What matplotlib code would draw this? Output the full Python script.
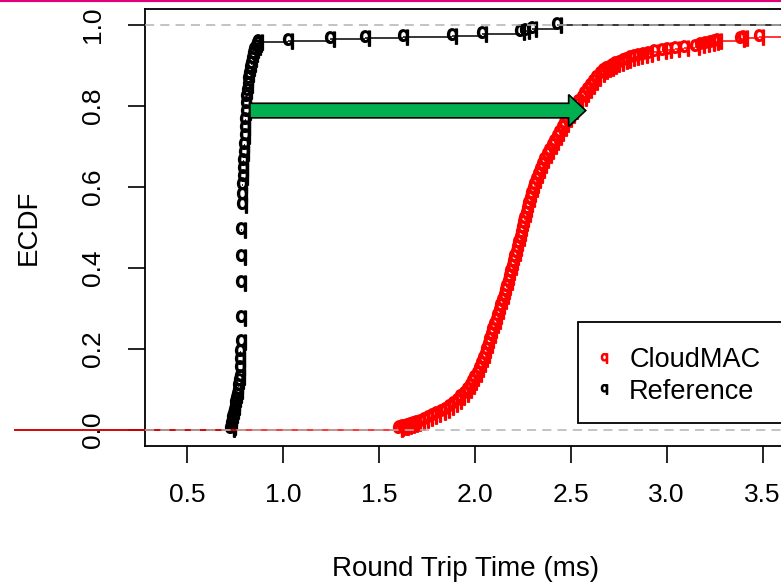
import numpy as np
import matplotlib
matplotlib.use("Agg")
import matplotlib.pyplot as plt
from matplotlib.lines import Line2D
from matplotlib.patches import FancyArrow, Rectangle

plt.rcParams['font.family'] = ['Liberation Sans', 'DejaVu Sans']

# Reference RTT (ms) and ECDF height at each step
ref_rtt = [0.724, 0.728, 0.731, 0.734, 0.737, 0.740, 0.744, 0.748, 0.752, 0.756,
           0.760, 0.764, 0.768, 0.772, 0.775, 0.776, 0.777, 0.778, 0.779, 0.780,
           0.781, 0.782, 0.783, 0.784, 0.786, 0.788, 0.790, 0.792, 0.794, 0.796,
           0.798, 0.800, 0.802, 0.804, 0.806, 0.808, 0.810, 0.813, 0.816, 0.820,
           0.824, 0.828, 0.833, 0.838, 0.844, 0.850, 0.857, 0.865, 0.872,
           1.026, 1.245, 1.427, 1.625, 1.880, 2.036, 2.234, 2.262, 2.300, 2.427]
ref_ecdf = [0.003, 0.008, 0.014, 0.020, 0.028, 0.036, 0.046, 0.056, 0.066, 0.076,
            0.086, 0.097, 0.108, 0.120, 0.130, 0.153, 0.173, 0.193, 0.217, 0.277,
            0.363, 0.427, 0.494, 0.556, 0.580, 0.605, 0.625, 0.645, 0.665, 0.685,
            0.705, 0.725, 0.745, 0.765, 0.785, 0.805, 0.822, 0.838, 0.852, 0.866,
            0.880, 0.893, 0.905, 0.917, 0.928, 0.938, 0.946, 0.953, 0.958,
            0.962, 0.965, 0.968, 0.971, 0.974, 0.978, 0.982, 0.986, 0.990, 1.000]

# CloudMAC RTT (ms) and ECDF height
cloud_rtt = [1.600, 1.606, 1.618, 1.633, 1.648, 1.662, 1.677, 1.695, 1.712, 1.733,
             1.755, 1.778, 1.800, 1.823, 1.847, 1.868, 1.888, 1.908, 1.925, 1.943,
             1.960, 1.974, 1.987, 1.998, 2.010, 2.021, 2.032, 2.042, 2.051, 2.060,
             2.068, 2.076, 2.084, 2.092, 2.100, 2.108, 2.116, 2.124, 2.132, 2.141,
             2.150, 2.157, 2.164, 2.171, 2.178, 2.185, 2.192, 2.199, 2.206, 2.213,
             2.220, 2.227, 2.233, 2.239, 2.246, 2.252, 2.258, 2.265, 2.272, 2.279,
             2.287, 2.295, 2.303, 2.311, 2.320, 2.329, 2.339, 2.350, 2.362, 2.375,
             2.389, 2.402, 2.414, 2.427, 2.440, 2.454, 2.467, 2.481, 2.495, 2.512,
             2.526, 2.540, 2.556, 2.570, 2.584, 2.600, 2.617, 2.634, 2.650, 2.666,
             2.682, 2.698, 2.715, 2.732, 2.750, 2.770, 2.790, 2.810, 2.830, 2.852,
             2.875, 2.905, 2.935, 2.975, 3.000, 3.045, 3.090, 3.150, 3.175, 3.200,
             3.225, 3.245, 3.262, 3.380, 3.400, 3.480, 3.760, 3.950]
cloud_ecdf = [0.002, 0.004, 0.006, 0.008, 0.010, 0.012, 0.014, 0.017, 0.020, 0.024,
              0.028, 0.033, 0.038, 0.044, 0.050, 0.057, 0.064, 0.072, 0.080, 0.089,
              0.098, 0.108, 0.118, 0.128, 0.139, 0.150, 0.162, 0.174, 0.186, 0.198,
              0.210, 0.222, 0.234, 0.246, 0.258, 0.270, 0.282, 0.294, 0.306, 0.318,
              0.330, 0.342, 0.354, 0.366, 0.378, 0.390, 0.402, 0.414, 0.426, 0.438,
              0.450, 0.462, 0.474, 0.486, 0.498, 0.510, 0.522, 0.534, 0.546, 0.558,
              0.570, 0.582, 0.594, 0.606, 0.618, 0.630, 0.642, 0.654, 0.666, 0.678,
              0.690, 0.701, 0.712, 0.723, 0.734, 0.745, 0.756, 0.767, 0.778, 0.789,
              0.800, 0.810, 0.820, 0.830, 0.840, 0.850, 0.860, 0.870, 0.879, 0.886,
              0.891, 0.895, 0.899, 0.903, 0.907, 0.911, 0.915, 0.918, 0.921, 0.924,
              0.927, 0.930, 0.933, 0.936, 0.938, 0.941, 0.944, 0.947, 0.950, 0.953,
              0.956, 0.959, 0.962, 0.966, 0.969, 0.972, 0.985, 1.000]

x_ticks = [0.5, 1.0, 1.5, 2.0, 2.5, 3.0, 3.5]
y_ticks = [0.0, 0.2, 0.4, 0.6, 0.8, 1.0]
series_names = ["CloudMAC", "Reference"]

# arrow drawn on top of the chart (start x, end x, height)
arrow_x0, arrow_x1, arrow_y = 0.828, 2.578, 0.789

QMARK = r'$\mathsf{q}$'


def draw_ecdf(ax, xs, fs, color, z):
    xs = np.asarray(xs)
    fs = np.asarray(fs)
    ax.hlines(fs[:-1], xs[:-1], xs[1:], color=color, lw=1.1, zorder=z)
    ax.hlines(0, -0.4, xs[0], color=color, lw=1.1, zorder=z, clip_on=False)
    ax.hlines(fs[-1], xs[-1], 5.0, color=color, lw=1.1, zorder=z)
    ax.plot(xs, fs, ls='none', marker=QMARK, ms=11, mew=1.1,
            color=color, zorder=z)


fig = plt.figure(figsize=(7.81, 5.83), dpi=100)
ax = fig.add_axes([145 / 781, 137 / 583, 656 / 781, 437 / 583])

draw_ecdf(ax, ref_rtt, ref_ecdf, 'black', 2)
draw_ecdf(ax, cloud_rtt, cloud_ecdf, '#FF0000', 3)

for h in (0, 1):
    ax.axhline(h, color='#B3B3B3', ls=(0, (6, 4)), lw=1.1, zorder=4)

arr = FancyArrow(arrow_x0, arrow_y, arrow_x1 - arrow_x0, 0, width=0.036,
                 head_width=0.079, head_length=0.089, length_includes_head=True,
                 facecolor='#00B050', edgecolor='black', lw=1.2, zorder=5)
ax.add_patch(arr)

ax.set_xlim(0.281, 3.7)
ax.set_ylim(-0.04, 1.04)
ax.set_xticks(x_ticks)
ax.set_xticklabels([f"{v:.1f}" for v in x_ticks])
ax.set_yticks(y_ticks)
ax.set_yticklabels([f"{v:.1f}" for v in y_ticks], rotation=90, va='center')
ax.tick_params(length=12, width=1.2, labelsize=19, pad=14.5)
ax.tick_params(axis='y', pad=16.5)

for s in ax.spines.values():
    s.set_linewidth(1.3)

ax.set_xlabel("Round Trip Time (ms)", fontsize=20)
ax.set_ylabel("ECDF", fontsize=20)
ax.xaxis.set_label_coords(0.489, -0.251)
ax.yaxis.set_label_coords(-0.157, 0.5)

# legend: frame runs past the right edge of the picture, as in the original
handles = [Line2D([], [], ls='none', marker=QMARK, ms=7, color='#FF0000'),
           Line2D([], [], ls='none', marker=QMARK, ms=7, color='black')]
leg = ax.legend(handles, series_names, loc='upper left',
                bbox_to_anchor=(0.660, 0.2724), borderaxespad=0, frameon=False,
                fontsize=19.5, borderpad=0.75, handlelength=0.42,
                handletextpad=0.72, labelspacing=0.2)
leg.set_zorder(6)
ax.add_patch(Rectangle((0.660, 0.0526), 0.5, 0.231, transform=ax.transAxes,
                       facecolor='white', edgecolor='black', lw=1.3,
                       zorder=5.5, clip_on=False))

# pink strip along the top edge
fig.add_artist(Line2D([0, 1], [1, 1], transform=fig.transFigure,
                      color='#E2007A', lw=3))

fig.savefig("out.png", dpi=100)
